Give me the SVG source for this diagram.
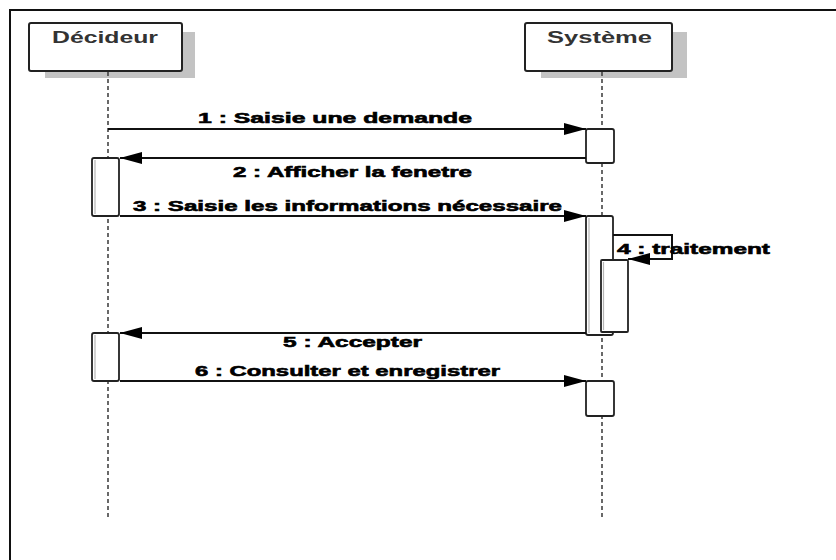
<svg xmlns="http://www.w3.org/2000/svg" width="836" height="560" viewBox="0 0 836 560">
  <style>
    .frame { fill: none; stroke: #111; stroke-width: 2; }
    .shadow { fill: #c3c3c3; }
    .head { fill: #fff; stroke: #222; stroke-width: 2; }
    .head-label { font-family: "Liberation Sans", Arial, sans-serif; font-weight: bold; font-size: 16px; fill: #333; }
    .lifeline { stroke: #444; stroke-width: 1.6; stroke-dasharray: 4 3; fill: none; }
    .act { fill: #fff; stroke: #222; stroke-width: 1.8; }
    .act-inner { stroke: #b5b5b5; stroke-width: 1.2; }
    .msg { stroke: #111; stroke-width: 2; fill: none; marker-end: url(#arrow); }
    .msg-label { font-family: "Liberation Sans", Arial, sans-serif; font-weight: bold; font-size: 15px; fill: #000; stroke: #000; stroke-width: 0.6; }
  </style>
  <defs>
    <marker id="arrow" markerUnits="userSpaceOnUse" markerWidth="22" markerHeight="12" refX="22" refY="6" orient="auto">
      <path d="M0,0 L22,6 L0,12 Z" fill="#000"/>
    </marker>
  </defs>

  <rect width="836" height="560" fill="#fff"/>

  <!-- diagram frame (continues past the right and bottom edges) -->
  <path class="frame" d="M10,570 V10 H846"/>

  <!-- participant: Décideur -->
  <g id="decideur">
    <rect class="shadow" x="45" y="32" width="150" height="46"/>
    <rect class="head" x="29" y="23" width="153" height="48" rx="2"/>
    <text class="head-label" x="52" y="43" textLength="106" lengthAdjust="spacingAndGlyphs">Décideur</text>
    <line class="lifeline" x1="108" y1="72" x2="108" y2="517"/>
    <rect class="act" x="92" y="158" width="27" height="58" rx="2"/>
    <line class="act-inner" x1="95" y1="160" x2="95" y2="214"/>
    <rect class="act" x="92" y="333" width="27" height="48" rx="2"/>
    <line class="act-inner" x1="95" y1="335" x2="95" y2="379"/>
  </g>

  <!-- participant: Système -->
  <g id="systeme">
    <rect class="shadow" x="541" y="32" width="146" height="46"/>
    <rect class="head" x="525" y="23" width="147" height="48" rx="2"/>
    <text class="head-label" x="547" y="43" textLength="105" lengthAdjust="spacingAndGlyphs">Système</text>
    <line class="lifeline" x1="602" y1="72" x2="602" y2="517"/>
    <rect class="act" x="586" y="129" width="28" height="34" rx="2"/>
    <rect class="act" x="586" y="216" width="27" height="119" rx="2"/>
    <line class="act-inner" x1="589" y1="218" x2="589" y2="333"/>
    <rect class="act" x="586" y="381" width="28" height="35" rx="2"/>
  </g>

  <!-- nested activation for the self call -->
  <g id="systeme-nested">
    <rect class="act" x="601" y="260" width="27" height="72" rx="1" stroke="#555"/>
    <line class="act-inner" x1="603.5" y1="262" x2="603.5" y2="330"/>
  </g>

  <!-- messages -->
  <g id="connectors">
    <line class="msg" x1="108" y1="129" x2="586" y2="129"/>
    <line class="msg" x1="586" y1="158" x2="120" y2="158"/>
    <line class="msg" x1="120" y1="216" x2="586" y2="216"/>
    <path class="msg" d="M613,235 H672 V259 H628"/>
    <line class="msg" x1="586" y1="333" x2="120" y2="333"/>
    <line class="msg" x1="120" y1="381" x2="586" y2="381"/>
  </g>

  <g id="labels">
    <text class="msg-label" x="198" y="123" textLength="274" lengthAdjust="spacingAndGlyphs">1 : Saisie une demande</text>
    <text class="msg-label" x="233" y="177" textLength="239" lengthAdjust="spacingAndGlyphs">2 : Afficher la fenetre</text>
    <text class="msg-label" x="133" y="211" textLength="429" lengthAdjust="spacingAndGlyphs">3 : Saisie les informations nécessaire</text>
    <text class="msg-label" x="617" y="254" textLength="153" lengthAdjust="spacingAndGlyphs">4 : traitement</text>
    <text class="msg-label" x="283" y="347" textLength="139" lengthAdjust="spacingAndGlyphs">5 : Accepter</text>
    <text class="msg-label" x="195" y="376" textLength="305" lengthAdjust="spacingAndGlyphs">6 : Consulter et enregistrer</text>
  </g>
</svg>
